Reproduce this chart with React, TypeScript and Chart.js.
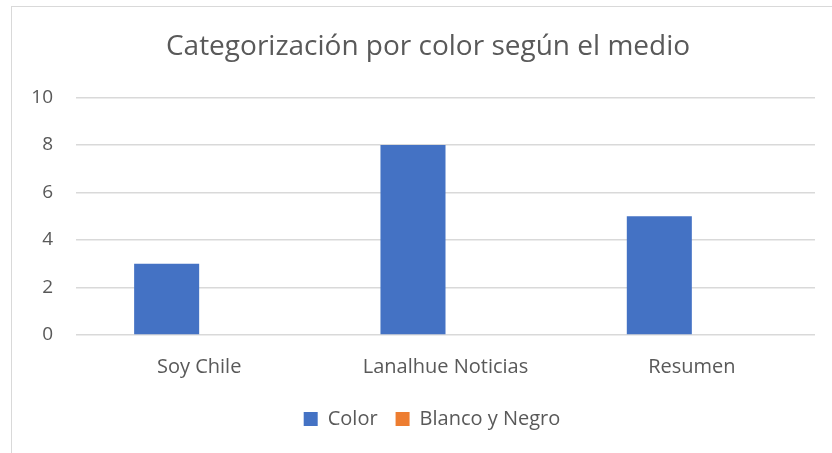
import React, { useEffect, useRef } from "react";
import { Chart, registerables } from "chart.js";

Chart.register(...registerables);

const categories = ["Soy Chile", "Lanalhue Noticias", "Resumen"];
const colorValues = [3, 8, 5];
const bwValues = [0, 0, 0];
const yTicks = [0, 2, 4, 6, 8, 10];

const FONT = "'Open Sans', 'Noto Sans', sans-serif";
const TEXT = "#595959";
const LEGEND_CENTER = 432;
const TITLE_CENTER = 428;

const blockShift = {
  id: "blockShift",
  afterLayout(chart: any) {
    const lg = chart.legend;
    if (lg) {
      const dx = LEGEND_CENTER - (lg.left + lg.right) / 2;
      lg.left += dx;
      lg.right += dx;
    }
    const tb = chart.titleBlock;
    if (tb) {
      const dx = TITLE_CENTER - (tb.left + tb.right) / 2;
      tb.left += dx;
      tb.right += dx;
    }
  },
};

export default function App() {
  const ref = useRef<HTMLCanvasElement | null>(null);

  useEffect(() => {
    if (!ref.current) return;
    const chart = new Chart(ref.current, {
      type: "bar",
      data: {
        labels: categories,
        datasets: [
          { label: "Color", data: colorValues, backgroundColor: "#4472C4", borderWidth: 0, categoryPercentage: 0.528, barPercentage: 1 },
          { label: "Blanco y Negro", data: bwValues, backgroundColor: "#ED7D31", borderWidth: 0, categoryPercentage: 0.528, barPercentage: 1 },
        ],
      },
      plugins: [blockShift],
      options: {
        responsive: false,
        animation: false,
        layout: { padding: { left: 0, right: 17, top: 10, bottom: 14 } },
        plugins: {
          tooltip: { enabled: false },
          title: {
            display: true,
            text: "Categorización por color según el medio",
            color: TEXT,
            font: { family: FONT, size: 28, weight: "normal" },
            padding: { top: 20, bottom: 34 },
          },
          legend: {
            position: "bottom",
            labels: {
              color: TEXT,
              font: { family: FONT, size: 20 },
              boxWidth: 14,
              boxHeight: 14,
              padding: 18,
            },
          },
        },
        scales: {
          x: {
            grid: { display: false },
            border: { display: false },
            ticks: { color: TEXT, font: { family: FONT, size: 20 }, padding: 12 },
          },
          y: {
            min: 0,
            max: 10,
            afterBuildTicks: (s: any) => {
              s.ticks = yTicks.map((v) => ({ value: v }));
            },
            afterFit: (s: any) => {
              s.width = 76;
            },
            grid: { color: "#D9D9D9", lineWidth: 1.5, drawTicks: false },
            border: { display: false },
            ticks: { color: TEXT, font: { family: FONT, size: 19 }, padding: 23 },
          },
        },
      },
    });
    return () => chart.destroy();
  }, []);

  return (
    <div style={{ position: "absolute", left: 0, top: 0, width: 832, height: 453, background: "#fff" }}>
      <div
        style={{
          position: "absolute",
          left: 11,
          top: 6,
          width: 840,
          height: 460,
          borderLeft: "1.5px solid #D9D9D9",
          borderTop: "1.5px solid #D9D9D9",
        }}
      />
      <canvas ref={ref} width={832} height={453} style={{ position: "absolute", left: 0, top: 0 }} />
    </div>
  );
}
